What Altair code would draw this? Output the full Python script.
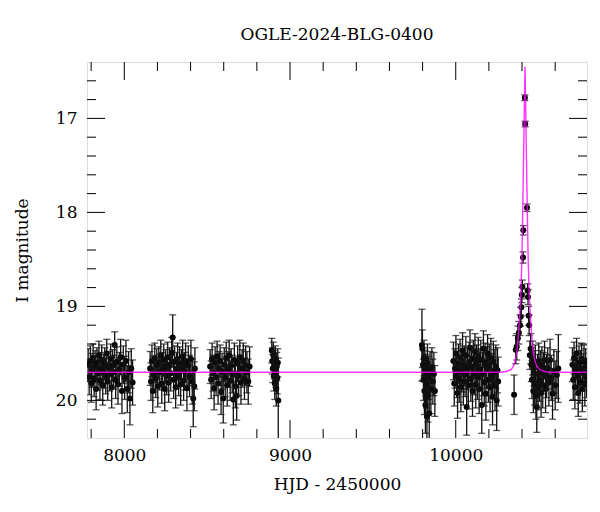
import altair as alt
import pandas as pd

# ---- photometry (HJD-2450000, I mag, error), by season ----
s1_t = [7782, 7788, 7795, 7801, 7806, 7812, 7818, 7824, 7830, 7835, 7841, 7847, 7853, 7859,
        7864, 7870, 7876, 7882, 7888, 7894, 7900, 7906, 7912, 7918, 7924, 7930, 7936, 7942,
        7948, 7955, 7962, 7970, 7978, 7986, 7994, 8002, 8010, 8018, 8026, 8034, 8042, 8050]
s1_mag = [19.62, 19.75, 19.58, 19.82, 19.68, 19.55, 19.77, 19.64, 19.88, 19.60, 19.71, 19.52, 19.79, 19.66,
          19.57, 19.84, 19.69, 19.61, 19.74, 19.50, 19.80, 19.65, 19.72, 19.56, 19.86, 19.63, 19.70, 19.41,
          19.78, 19.59, 19.83, 19.67, 19.54, 19.90, 19.62, 19.76, 19.58, 19.88, 19.70, 19.98, 19.66, 19.81]
s1_err = [0.17, 0.19, 0.16, 0.20, 0.18, 0.15, 0.19, 0.17, 0.22, 0.16, 0.18, 0.15, 0.20, 0.17,
          0.16, 0.21, 0.18, 0.17, 0.19, 0.15, 0.20, 0.17, 0.18, 0.16, 0.22, 0.17, 0.18, 0.14,
          0.20, 0.16, 0.21, 0.18, 0.19, 0.24, 0.20, 0.23, 0.22, 0.25, 0.22, 0.28, 0.21, 0.24]

s2_t = [8156, 8161, 8167, 8172, 8178, 8184, 8190, 8196, 8202, 8208, 8214, 8220, 8226, 8232, 8238,
        8244, 8250, 8256, 8262, 8268, 8274, 8280, 8286, 8292, 8298, 8304, 8310, 8316, 8322, 8328,
        8334, 8340, 8346, 8352, 8358, 8364, 8370, 8378, 8386, 8394, 8402, 8410, 8416, 8422, 8426]
s2_mag = [19.66, 19.80, 19.58, 19.90, 19.72, 19.55, 19.77, 19.63, 19.85, 19.60, 19.70, 19.52, 19.82, 19.67, 19.57,
          19.88, 19.64, 19.74, 19.54, 19.81, 19.62, 19.71, 19.49, 19.33, 19.78, 19.59, 19.86, 19.68, 19.56, 19.75,
          19.61, 19.83, 19.65, 19.53, 19.79, 19.69, 19.58, 19.87, 19.63, 19.74, 19.56, 19.80, 19.98, 19.85, 19.66]
s2_err = [0.18, 0.20, 0.17, 0.23, 0.19, 0.16, 0.20, 0.18, 0.22, 0.17, 0.19, 0.16, 0.21, 0.18, 0.17,
          0.23, 0.18, 0.20, 0.16, 0.21, 0.18, 0.19, 0.16, 0.24, 0.20, 0.17, 0.22, 0.19, 0.17, 0.20,
          0.18, 0.22, 0.19, 0.17, 0.21, 0.20, 0.19, 0.24, 0.21, 0.22, 0.20, 0.24, 0.30, 0.26, 0.22]

s3_t = [8518, 8524, 8530, 8536, 8542, 8548, 8554, 8560, 8566, 8572, 8578, 8584, 8590, 8597, 8603,
        8609, 8615, 8621, 8627, 8633, 8639, 8645, 8651, 8658, 8664, 8670, 8678, 8684, 8690, 8697,
        8704, 8711, 8718, 8725, 8732, 8740, 8748, 8756]
s3_mag = [19.64, 19.78, 19.56, 19.71, 19.87, 19.60, 19.75, 19.53, 19.82, 19.66, 19.58, 19.91, 19.69, 19.98, 19.62,
          19.76, 19.55, 19.84, 19.67, 19.52, 19.79, 19.63, 19.72, 19.99, 19.57, 19.85, 19.95, 19.61, 19.74, 19.54,
          19.81, 19.66, 19.58, 19.77, 19.63, 19.70, 19.80, 19.64]
s3_err = [0.18, 0.20, 0.17, 0.19, 0.23, 0.17, 0.20, 0.16, 0.22, 0.18, 0.17, 0.24, 0.19, 0.26, 0.18,
          0.20, 0.17, 0.22, 0.19, 0.16, 0.21, 0.18, 0.20, 0.27, 0.18, 0.23, 0.26, 0.19, 0.21, 0.18,
          0.23, 0.20, 0.19, 0.22, 0.21, 0.22, 0.24, 0.21]

s4_t = [8890, 8893, 8896, 8899, 8902, 8905, 8908, 8911, 8914, 8917, 8920, 8923, 8926, 8929]
s4_mag = [19.47, 19.58, 19.66, 19.52, 19.74, 19.62, 19.82, 19.56, 19.70, 19.88, 19.64, 19.76, 19.60, 20.00]
s4_err = [0.13, 0.14, 0.15, 0.14, 0.16, 0.15, 0.17, 0.14, 0.16, 0.18, 0.15, 0.17, 0.15, 0.45]

s5_t = [9796, 9799, 9802, 9805, 9808, 9811, 9814, 9817, 9820, 9823, 9826, 9829, 9832, 9836,
        9840, 9845, 9850, 9856, 9862, 9868, 9874]
s5_mag = [19.41, 19.45, 19.62, 19.78, 19.55, 19.90, 19.68, 20.05, 19.73, 19.84, 20.17, 19.60, 19.95, 19.76,
          20.14, 19.70, 19.88, 19.65, 19.80, 19.72, 19.90]
s5_err = [0.38, 0.20, 0.18, 0.22, 0.19, 0.25, 0.21, 0.30, 0.22, 0.24, 0.35, 0.20, 0.28, 0.23,
          0.33, 0.22, 0.26, 0.21, 0.24, 0.23, 0.27]

s6_t = [9986, 9991, 9996, 10001, 10006, 10011, 10016, 10021, 10026, 10031, 10036, 10041, 10046, 10051,
        10056, 10061, 10066, 10071, 10076, 10081, 10086, 10091, 10096, 10101, 10106, 10111, 10116, 10121,
        10126, 10131, 10136, 10141, 10146, 10151, 10157, 10162, 10167, 10172, 10177, 10182, 10187, 10192,
        10197, 10202, 10207, 10212, 10217, 10222, 10227, 10232, 10237, 10242, 10247, 10252, 10256]
s6_mag = [19.58, 19.82, 19.66, 19.50, 19.74, 19.92, 19.61, 19.78, 19.55, 19.86, 19.69, 19.47, 19.80, 19.63,
          19.73, 19.52, 20.07, 19.66, 19.84, 19.59, 19.44, 19.77, 19.64, 19.90, 19.56, 19.71, 19.48, 19.83,
          19.62, 19.75, 19.53, 19.88, 19.67, 19.57, 20.05, 19.72, 19.45, 19.81, 19.60, 19.93, 19.65, 19.50,
          19.78, 19.62, 19.86, 19.55, 19.74, 19.96, 19.59, 19.70, 19.84, 19.64, 20.00, 19.68, 19.80]
s6_err = [0.20, 0.24, 0.21, 0.19, 0.23, 0.27, 0.21, 0.24, 0.20, 0.26, 0.22, 0.19, 0.25, 0.21,
          0.23, 0.20, 0.30, 0.22, 0.25, 0.21, 0.19, 0.24, 0.22, 0.27, 0.20, 0.23, 0.19, 0.25,
          0.21, 0.24, 0.20, 0.26, 0.22, 0.21, 0.30, 0.23, 0.19, 0.25, 0.21, 0.28, 0.22, 0.20,
          0.24, 0.22, 0.26, 0.21, 0.24, 0.30, 0.22, 0.24, 0.27, 0.23, 0.32, 0.24, 0.26]

s7_t = [10352, 10362, 10368, 10375, 10381, 10388, 10392, 10396, 10399, 10402, 10406, 10408, 10417, 10419,
        10430, 10434, 10436, 10440, 10443, 10447, 10452, 10456, 10460, 10464, 10468, 10472, 10476, 10480,
        10484, 10489, 10493, 10497, 10501, 10505, 10510, 10515, 10520, 10525, 10530, 10536, 10542, 10548,
        10555, 10562, 10569, 10576, 10584, 10592, 10600, 10610, 10619]
s7_mag = [19.94, 19.46, 19.43, 19.34, 19.28, 19.20, 19.11, 19.01, 18.88, 18.79, 18.48, 18.19, 16.78, 17.06,
          17.95, 18.83, 18.90, 19.10, 19.20, 19.52, 19.45, 19.62, 19.78, 19.55, 19.90, 19.66, 19.83, 19.60,
          19.95, 20.07, 19.72, 19.86, 19.58, 19.79, 19.68, 19.92, 19.63, 19.84, 19.71, 19.57, 19.88, 19.74,
          19.66, 19.81, 19.57, 19.76, 19.93, 19.69, 19.84, 19.73, 19.66]
s7_err = [0.21, 0.15, 0.14, 0.13, 0.12, 0.11, 0.10, 0.09, 0.08, 0.07, 0.06, 0.05, 0.03, 0.03,
          0.04, 0.07, 0.08, 0.10, 0.11, 0.15, 0.16, 0.18, 0.20, 0.18, 0.23, 0.19, 0.22, 0.19,
          0.25, 0.27, 0.21, 0.24, 0.19, 0.22, 0.21, 0.26, 0.20, 0.24, 0.22, 0.20, 0.25, 0.23,
          0.22, 0.25, 0.22, 0.24, 0.27, 0.23, 0.26, 0.25, 0.36]

s8_t = [10704, 10709, 10714, 10719, 10724, 10729, 10734, 10739, 10744, 10749, 10754, 10759, 10764,
        10769, 10774, 10779, 10784, 10789]
s8_mag = [19.62, 19.78, 19.55, 19.86, 19.68, 19.50, 19.74, 19.92, 19.60, 19.81, 19.66, 19.56, 19.88,
          19.70, 19.59, 19.83, 19.64, 19.76]
s8_err = [0.18, 0.21, 0.17, 0.23, 0.19, 0.16, 0.20, 0.25, 0.18, 0.22, 0.19, 0.17, 0.24,
          0.20, 0.18, 0.23, 0.19, 0.21]

# ---- model curve ----
model_t = [7775, 10280, 10310, 10335, 10350, 10360, 10370, 10378, 10386, 10393, 10399, 10404, 10409,
           10413, 10416, 10418, 10420, 10423, 10427, 10432, 10437, 10443, 10450, 10458, 10466, 10476,
           10488, 10505, 10530, 10560, 10792]
model_mag = [19.70, 19.70, 19.69, 19.67, 19.63, 19.57, 19.47, 19.30, 19.10, 18.85, 18.50, 18.00, 17.45,
             17.00, 16.65, 16.45, 16.65, 17.00, 17.45, 18.00, 18.50, 18.85, 19.10, 19.30, 19.47, 19.57,
             19.63, 19.67, 19.69, 19.70, 19.70]

# ---- axis ticks ----
x_major = [8000, 9000, 10000]
x_minor = [7800, 8200, 8400, 8600, 8800, 9200, 9400, 9600, 9800, 10200, 10400, 10600]
y_major = [17, 18, 19, 20]
y_minor = [16.6, 16.8, 17.2, 17.4, 17.6, 17.8, 18.2, 18.4, 18.6, 18.8,
           19.2, 19.4, 19.6, 19.8, 20.2]

seasons = [(s1_t, s1_mag, s1_err), (s2_t, s2_mag, s2_err), (s3_t, s3_mag, s3_err),
           (s4_t, s4_mag, s4_err), (s5_t, s5_mag, s5_err), (s6_t, s6_mag, s6_err),
           (s7_t, s7_mag, s7_err), (s8_t, s8_mag, s8_err)]
rows = []
for ts, ms, es in seasons:
    for t, m, e in zip(ts, ms, es):
        rows.append({"t": t, "mag": m, "err": e, "lo": round(m - e, 3), "hi": round(m + e, 3)})
df = pd.DataFrame(rows)
model_df = pd.DataFrame({"t": model_t, "mag": model_mag})

W, H = 500, 376
FONT = "DejaVu Serif"
xs = alt.Scale(domain=[7775, 10792], nice=False, zero=False)
ys = alt.Scale(domain=[16.4, 20.4], reverse=True, nice=False, zero=False)

x_axis = alt.Axis(values=x_major, format="d", ticks=False, domain=False, grid=False,
                  labelFont=FONT, labelFontSize=17, labelColor="black", labelPadding=9,
                  title="HJD - 2450000", titleFont=FONT, titleFontSize=17,
                  titleFontWeight="normal", titleColor="black", titlePadding=13)
y_axis = alt.Axis(values=y_major, format="d", ticks=False, domain=False, grid=False,
                  labelFont=FONT, labelFontSize=17, labelColor="black", labelPadding=10,
                  title="I magnitude", titleFont=FONT, titleFontSize=17,
                  titleFontWeight="normal", titleColor="black", titlePadding=24)

def X(field):
    return alt.X(field, scale=xs, axis=x_axis)

def Y(field):
    return alt.Y(field, scale=ys, axis=y_axis)

EC = "#111111"
base = alt.Chart(df)
bars = base.mark_rule(color=EC, strokeWidth=1.3, clip=True).encode(
    x=X("t:Q"), y=Y("lo:Q"), y2="hi:Q")
cap_lo = base.mark_tick(orient="horizontal", size=7, thickness=1.3, color=EC, clip=True).encode(
    x=X("t:Q"), y=Y("lo:Q"))
cap_hi = base.mark_tick(orient="horizontal", size=7, thickness=1.3, color=EC, clip=True).encode(
    x=X("t:Q"), y=Y("hi:Q"))
pts = base.mark_circle(size=36, color="black", opacity=1, clip=True).encode(
    x=X("t:Q"), y=Y("mag:Q"))
model = alt.Chart(model_df).mark_line(color="#ff00ff", strokeWidth=1.4, opacity=0.8, clip=True).encode(
    x=X("t:Q"), y=Y("mag:Q"))

def xticks(vals, length):
    d = pd.DataFrame({"v": vals})
    b = alt.Chart(d).mark_rule(color="black", strokeWidth=1)
    bottom = b.encode(x=X("v:Q"), y=alt.value(H), y2=alt.value(H - length))
    top = b.encode(x=X("v:Q"), y=alt.value(0), y2=alt.value(length))
    return [bottom, top]

def yticks(vals, length):
    d = pd.DataFrame({"v": vals})
    b = alt.Chart(d).mark_rule(color="black", strokeWidth=1)
    left = b.encode(y=Y("v:Q"), x=alt.value(0), x2=alt.value(length))
    right = b.encode(y=Y("v:Q"), x=alt.value(W), x2=alt.value(W - length))
    return [left, right]

ticks = xticks(x_major, 18) + xticks(x_minor, 9) + yticks(y_major, 18) + yticks(y_minor, 9)

chart = alt.layer(pts, bars, cap_lo, cap_hi, model, *ticks).properties(
    width=W, height=H,
    title=alt.TitleParams("OGLE-2024-BLG-0400", font=FONT, fontSize=17, fontWeight="normal",
                          color="black", anchor="middle", offset=18),
    autosize=alt.AutoSizeParams(type="none"),
    padding={"left": 79, "top": 54, "right": 5, "bottom": 66},
).configure_view(stroke="black", strokeWidth=1.2).configure(background="white")

chart.save("out.html", embed_options={"renderer": "svg", "actions": False})
